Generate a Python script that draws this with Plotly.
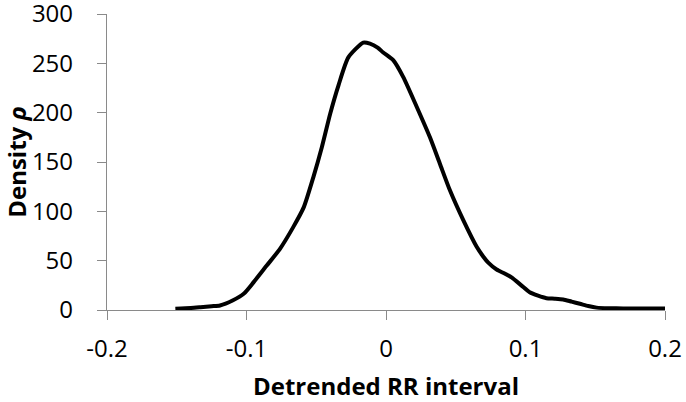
import plotly.graph_objects as go

# detrended RR interval values and estimated density
rr_interval = [-0.151, -0.14, -0.133, -0.125, -0.119, -0.11, -0.102, -0.095,
               -0.0855, -0.076, -0.0665, -0.059, -0.052, -0.046, -0.040, -0.034,
               -0.027, -0.0163, -0.0115, -0.006, -0.002, 0.0053, 0.0124,
               0.022, 0.0315, 0.0387, 0.0459, 0.0554, 0.065, 0.0698, 0.0733,
               0.0793, 0.085, 0.09, 0.097, 0.103, 0.109, 0.115, 0.121, 0.127,
               0.133, 0.139, 0.145, 0.151, 0.16, 0.17, 0.18, 0.2]
density = [1.2, 2.0, 2.8, 3.8, 4.6, 9.6, 16.4, 28,
           45, 62, 84, 104, 135, 165, 199, 228,
           256, 271, 270, 266, 261, 253, 236,
           206, 175, 148, 121, 91, 64, 54, 48,
           41, 37, 33, 25, 18, 14.5, 12, 11.5, 10.7,
           8.5, 6.3, 4.0, 2.4, 1.8, 1.6, 1.5, 1.5]

x_ticks = [-0.2, -0.1, 0, 0.1, 0.2]
x_labels = ["-0.2", "-0.1", "0", "0.1", "0.2"]
y_ticks = [0, 50, 100, 150, 200, 250, 300]

axis_grey = "#8a8a8a"
font_family = "Open Sans"

fig = go.Figure()
fig.add_trace(go.Scatter(x=rr_interval, y=density, mode="lines",
                         line=dict(color="black", width=4, shape="spline", smoothing=0.6),
                         showlegend=False, hoverinfo="skip"))

fig.update_layout(
    width=686, height=402,
    margin=dict(l=107, r=21, t=14, b=92),
    paper_bgcolor="white", plot_bgcolor="white",
    font=dict(family=font_family, size=24, color="black"),
    xaxis=dict(
        range=[-0.2, 0.2], tickvals=x_ticks, ticktext=x_labels,
        showgrid=False, zeroline=False, automargin=False,
        showline=True, linecolor=axis_grey, linewidth=1.3,
        ticks="outside", ticklen=9, tickcolor=axis_grey, tickwidth=1.3,
        ticklabelstandoff=8, ticklabeloverflow="allow",
        title=dict(text="<b>Detrended RR interval</b>", standoff=23,
                   font=dict(family=font_family, size=24)),
    ),
    yaxis=dict(
        range=[0, 300], tickvals=y_ticks,
        showgrid=False, zeroline=False, automargin=False,
        showline=True, linecolor=axis_grey, linewidth=1.3,
        ticks="outside", ticklen=9, tickcolor=axis_grey, tickwidth=1.3,
        ticklabelstandoff=19, ticklabeloverflow="allow",
        title=dict(text="<b>Density <i>ρ</i></b>", standoff=4,
                   font=dict(family=font_family, size=24)),
    ),
)

# drop the default 8px body margin so the figure fills the window exactly
fig.write_html("out.html", config={"displayModeBar": False},
               post_script="document.body.style.margin='0';")
